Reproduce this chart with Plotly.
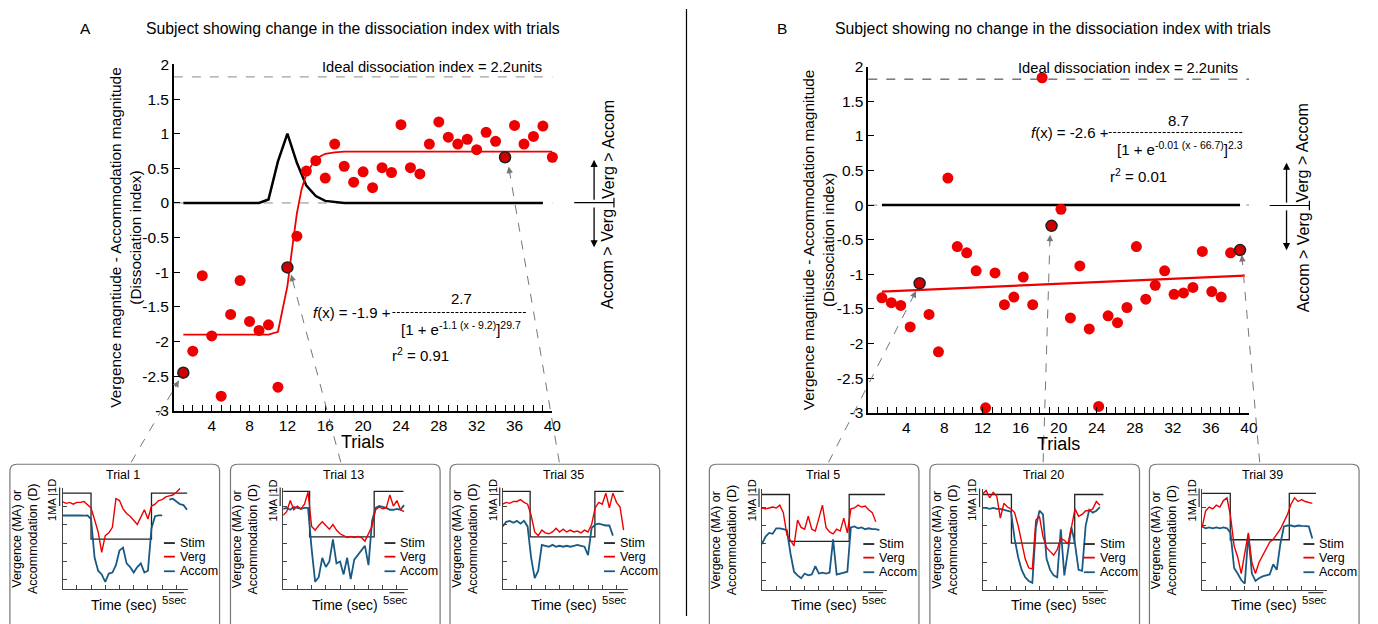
import math
import plotly.graph_objects as go

W, H = 1378, 624
FONT = "Liberation Sans, Arial, Helvetica, sans-serif"
RED = "rgb(238,0,0)"
BLUE = "#185a85"
GRAY = "#8a8a8a"

# ---------------- main panel data ----------------
trials = list(range(1, 41))

di_A = [-2.45, -2.14, -1.05, -1.92, -2.79, -1.61, -1.12, -1.71, -1.84, -1.76,
        -2.66, -0.93, -0.48, 0.46, 0.61, 0.36, 0.85, 0.53, 0.30, 0.45,
        0.22, 0.51, 0.44, 1.13, 0.51, 0.42, 0.85, 1.17, 0.95, 0.85,
        0.92, 0.77, 1.02, 0.89, 0.66, 1.12, 0.85, 0.96, 1.11, 0.66]
hl_A = [1, 12, 35]
fit_x_A = [1, 10, 11, 12, 12.5, 13, 13.5, 14, 15, 16, 17, 18, 40]
fit_y_A = [-1.9, -1.9, -1.86, -1.2, -0.66, -0.15, 0.2, 0.42, 0.64, 0.71, 0.73, 0.74, 0.74]
peak_x_A = [1, 9, 10, 11, 12, 13, 14, 15, 16, 17, 18, 39]
peak_y_A = [0, 0, 0.05, 0.6, 1.0, 0.58, 0.25, 0.10, 0.03, 0.01, 0, 0]

di_B = [-1.34, -1.41, -1.45, -1.76, -1.13, -1.58, -2.12, 0.39, -0.60, -0.69,
        -0.95, -2.93, -0.98, -1.44, -1.33, -1.04, -1.44, 1.84, -0.30, -0.06,
        -1.63, -0.88, -1.79, -2.91, -1.60, -1.70, -1.48, -0.60, -1.36, -1.16,
        -0.95, -1.29, -1.27, -1.19, -0.67, -1.25, -1.33, -0.69, -0.65, -1.07]
hl_B = [5, 19, 39]
fit_x_B = [1, 39.5]
fit_y_B = [-1.25, -1.02]
flat_x_B = [1, 39]
flat_y_B = [0, 0]

ideal_level = 1.82

x_ticks = list(range(1, 41))
x_labels = [str(t) if t % 4 == 0 else "" for t in x_ticks]
y_ticks = [-3, -2.5, -2, -1.5, -1, -0.5, 0, 0.5, 1, 1.5, 2]
y_labels = ["-3", "-2.5", "-2", "-1.5", "-1", "-0.5", "0", "0.5", "1", "1.5", "2"]

# ---------------- inset data (time step 0.25 tick units) ----------------
inset_titles = ["Trial 1", "Trial 13", "Trial 35", "Trial 5", "Trial 20", "Trial 39"]
stim_x = [[0, 2.0, 2.0, 6.25, 6.25, 8.76],
          [0, 1.86, 1.86, 6.4, 6.4, 8.46],
          [0, 1.93, 1.93, 6.48, 6.48, 8.5],
          [0, 1.93, 1.93, 6.13, 6.13, 8.65],
          [0, 2.03, 2.03, 6.48, 6.48, 8.5],
          [0, 1.98, 1.98, 6.13, 6.13, 8.0]]
stim_y = [[4.7, 4.7, 2.21, 2.21, 4.7, 4.7],
          [4.8, 4.8, 2.33, 2.33, 4.8, 4.8],
          [4.8, 4.8, 2.33, 2.33, 4.8, 4.8],
          [4.68, 4.68, 2.14, 2.14, 4.68, 4.68],
          [4.68, 4.68, 2.05, 2.05, 4.68, 4.68],
          [4.74, 4.74, 2.23, 2.23, 4.74, 4.74]]
verg = [
    [4.23, 4.15, 4.2, 4.1, 4.2, 4.2, 4.25, 4.1, 3.9, 3.26, 2.6, 1.5, 2.4, 2.55, 2.85, 4.4,
     4.3, 3.85, 3.6, 3.45, 3.2, 3.0, 3.4, 3.8, 3.3, 4.0, 4.1, 4.3, 4.35, 4.5, 4.55, 4.6, 4.75, 4.95],
    [3.5, 3.7, 4.3, 3.8, 4.0, 3.85, 4.1, 4.75, 2.9, 2.7, 2.95, 3.15, 2.95, 2.75, 3.0, 2.7,
     2.5, 2.4, 2.3, 2.35, 2.3, 2.35, 2.3, 2.1, 2.5, 2.9, 3.8, 3.95, 3.85, 3.9, 4.6, 4.0, 4.3, 3.8, 3.7],
    [4.1, 4.2, 4.15, 4.25, 4.25, 4.35, 4.2, 4.1, 3.5, 2.6, 2.4, 2.7, 2.55, 2.5, 2.6, 2.8,
     2.6, 2.75, 2.6, 2.7, 2.6, 2.65, 2.55, 2.7, 2.6, 3.0, 3.9, 4.2, 4.1, 4.7, 3.9, 4.7, 4.2, 3.95, 2.7],
    [3.95, 3.9, 3.95, 4.0, 3.95, 4.1, 3.7, 2.5, 2.2, 1.9, 3.3, 2.9, 2.8, 3.5, 2.8, 2.7,
     3.4, 4.1, 2.9, 2.65, 2.55, 2.8, 2.7, 3.4, 2.6, 3.9, 3.95, 4.1, 4.0, 4.05, 3.85, 3.7, 3.2],
    [4.7, 4.9, 4.5, 4.8, 4.6, 3.4, 4.2, 4.0, 3.9, 3.7, 3.0, 2.1, 1.2, 0.7, 0.65, 3.3,
     3.5, 2.4, 1.8, 1.6, 1.4, 1.7, 2.3, 2.2, 2.0, 2.9, 3.9, 3.5, 3.6, 3.8, 3.8, 3.9, 4.3, 4.1],
    [2.9, 3.8, 4.0, 3.9, 4.1, 4.0, 4.35, 4.5, 3.5, 1.9, 1.3, 0.4, 1.5, 2.6, 1.0, 0.4,
     1.0, 1.35, 1.7, 2.1, 2.25, 2.5, 2.8, 3.2, 3.6, 4.15, 4.5, 4.3, 4.4, 4.3, 4.25, 4.2],
]
accom = [
    [3.49, 3.5, 3.5, 3.48, 3.5, 3.5, 3.48, 3.5, 3.3, 1.2, 0.5, 0.3, -0.1, 0.35, 0.4, 0.8,
     1.6, 1.75, 0.9, 0.7, 0.4, 0.7, 0.9, 0.4, 0.5, 2.8, 3.45, 3.5, 3.5, None, 4.35, 4.4, 4.25, 4.1, 4.05, 3.8],
    [3.85, 3.9, 3.8, 3.95, 3.9, 3.85, 3.9, 3.9, 1.7, -0.1, 0.15, 1.2, 0.7, 1.0, 2.2, 0.9,
     1.0, 0.3, 1.2, 0.05, 1.1, 1.35, 1.55, 1.85, 0.8, 3.2, 3.9, 4.0, 3.95, 3.9, 3.8, 3.8, 3.85, 3.8, 4.05],
    [2.9, 3.15, 3.2, 3.1, 3.2, 3.05, 3.2, 2.9, 1.2, 0.1, 0.5, 1.9, 1.85, 1.8, 1.9, 1.8,
     1.85, 1.8, 1.85, 1.8, 1.85, 1.9, 1.85, 1.8, 1.35, 2.8, 3.0, 3.05, 3.0, 2.95, 2.95, 2.4],
    [2.0, 2.4, 2.6, 2.55, 2.85, 2.85, 2.8, 2.75, 1.5, 0.5, 0.3, 0.15, 0.4, 0.3, 0.35, 0.8,
     0.4, 0.45, 0.4, 0.45, 2.25, 0.35, 0.4, 0.45, 0.5, 2.9, 2.95, 2.85, 2.9, 2.8, 2.85, 2.8, 2.8, 2.75],
    [3.95, 3.95, 3.9, 3.95, 3.9, 3.9, 3.85, 3.8, 3.75, 2.3, 1.3, 0.6, 0.2, 0.0, -0.1, 2.9,
     3.8, 3.6, 1.2, 0.6, 0.3, 0.2, 2.8, 0.3, 1.5, 2.9, 2.0, 0.6, 0.55, 3.0, 3.85, 3.7, 3.8, 4.0],
    [2.95, 2.85, 2.9, 2.85, 2.9, 2.85, 2.9, 2.85, 2.6, 0.7, 0.4, 0.05, -0.15, 2.5, 0.4, 0.0,
     0.15, 0.25, 0.3, 0.35, 0.9, 0.6, 2.0, 2.95, 3.0, 3.0, 2.95, 3.0, 2.98, 2.95, 2.95, 2.3],
]

# ---------------- helpers ----------------
def X(px):
    return px / W


def Y(py):
    return 1 - py / H


shapes, anns = [], []


def line_px(x0, y0, x1, y1, color="black", width=1.0, dash="solid"):
    shapes.append(dict(type="line", xref="paper", yref="paper", x0=X(x0), y0=Y(y0),
                       x1=X(x1), y1=Y(y1), line=dict(color=color, width=width, dash=dash)))


def text_px(txt, x, y, size=15, xanchor="center", yanchor="middle", angle=0, color="black"):
    anns.append(dict(text=txt, x=X(x), y=Y(y), xref="paper", yref="paper", showarrow=False,
                     xanchor=xanchor, yanchor=yanchor, textangle=angle,
                     font=dict(family=FONT, size=size, color=color)))


def arrow_px(sx, sy, ex, ey, color, width=1.0, length=9, size=1.3):
    dx, dy = sx - ex, sy - ey
    n = math.hypot(dx, dy)
    anns.append(dict(text="", x=X(ex), y=Y(ey), xref="paper", yref="paper",
                     ax=dx / n * length, ay=dy / n * length, axref="pixel", ayref="pixel",
                     showarrow=True, arrowhead=2, arrowsize=size, arrowwidth=width,
                     arrowcolor=color, font=dict(family=FONT, size=10)))


fig = go.Figure()

# ---------------- main panels ----------------
fig.add_trace(go.Scatter(x=peak_x_A, y=peak_y_A, mode="lines",
                         line=dict(color="black", width=2.5), xaxis="x", yaxis="y"))
fig.add_trace(go.Scatter(x=fit_x_A, y=fit_y_A, mode="lines",
                         line=dict(color=RED, width=1.8), xaxis="x", yaxis="y"))
fig.add_trace(go.Scatter(
    x=trials, y=di_A, mode="markers", xaxis="x", yaxis="y", cliponaxis=False,
    marker=dict(size=11, color=["#d00000" if t in hl_A else RED for t in trials],
                line=dict(color=["#222" if t in hl_A else RED for t in trials],
                          width=[1.5 if t in hl_A else 0 for t in trials]))))

fig.add_trace(go.Scatter(x=flat_x_B, y=flat_y_B, mode="lines",
                         line=dict(color="black", width=2.5), xaxis="x2", yaxis="y2"))
fig.add_trace(go.Scatter(x=fit_x_B, y=fit_y_B, mode="lines",
                         line=dict(color=RED, width=2.2), xaxis="x2", yaxis="y2"))
fig.add_trace(go.Scatter(
    x=trials, y=di_B, mode="markers", xaxis="x2", yaxis="y2", cliponaxis=False,
    marker=dict(size=11, color=["#d00000" if t in hl_B else RED for t in trials],
                line=dict(color=["#222" if t in hl_B else RED for t in trials],
                          width=[1.5 if t in hl_B else 0 for t in trials]))))

# reference dashed lines
for xr, yr, col in (("x domain", "y", GRAY), ("x2 domain", "y2", "#333")):
    shapes.append(dict(type="line", xref=xr, yref=yr, x0=0, x1=1, y0=ideal_level, y1=ideal_level,
                       line=dict(color=col, width=1, dash="dash"), layer="below"))
    shapes.append(dict(type="line", xref=xr, yref=yr, x0=0, x1=1, y0=0, y1=0,
                       line=dict(color=GRAY, width=1, dash="dash"), layer="below"))

axis_common = dict(showline=True, linecolor="black", linewidth=1.5, ticks="inside", ticklen=6,
                   tickwidth=1.2, tickcolor="black", showgrid=False, zeroline=False,
                   tickfont=dict(family=FONT, size=15.5, color="black"))

layout_axes = dict(
    xaxis=dict(domain=[X(175), X(556)], range=[0, 40], tickvals=x_ticks, ticktext=x_labels,
               anchor="y", **axis_common),
    yaxis=dict(domain=[Y(413), Y(57)], range=[-3, 2], tickvals=y_ticks, ticktext=y_labels,
               anchor="x", **axis_common),
    xaxis2=dict(domain=[X(874), X(1257.3)], range=[-0.444, 39.96],
                tickvals=[-0.444 + 1.0098 * t for t in x_ticks], ticktext=x_labels,
                anchor="y2", **axis_common),
    yaxis2=dict(domain=[Y(415), Y(59.3)], range=[-3, 2], tickvals=y_ticks, ticktext=y_labels,
                anchor="x2", **axis_common),
)

# titles / labels of main panels
text_px("A", 86, 20, 15.5)
text_px("Subject showing change in the dissociation index with trials", 145, 20, 15.8, xanchor="left")
text_px("B", 787, 20, 15.5)
text_px("Subject showing no change in the dissociation index with trials", 838, 20, 15.8, xanchor="left")

text_px("Vergence magntiude - Accommodation magnitude<br>(Dissociation index)", 126, 235, 15.4, angle=-90)
text_px("Vergence magntiude - Accommodation magnitude<br>(Dissociation index)", 824, 237, 15.4, angle=-90)
text_px("Trials", 365, 445, 18)
text_px("Trials", 1065, 447, 18)

text_px("Ideal dissociation index = 2.2units", 548, 60, 14.7, xanchor="right")
text_px("Ideal dissociation index = 2.2units", 1248, 61, 14.7, xanchor="right")

# equations
text_px("<i>f</i>(x) = -1.9 + ", 313, 312, 15, xanchor="left")
text_px("2.7", 465, 298, 15)
line_px(395, 312, 530, 312, "black", 1, "3px,1.5px")
text_px("[1 + e<sup>-1.1 (x - 9.2)</sup>]<sup>29.7</sup>", 464, 328, 15)
text_px("r<sup>2</sup> = 0.91", 393, 355, 15, xanchor="left")

text_px("<i>f</i>(x) = -2.6 + ", 1036, 127, 15, xanchor="left")
text_px("8.7", 1186, 115, 15)
line_px(1116, 127, 1252, 127, "black", 1, "3px,1.5px")
text_px("[1 + e<sup>-0.01 (x - 66.7)</sup>]<sup>2.3</sup>", 1188, 143, 15)
text_px("r<sup>2</sup> = 0.01", 1115, 171, 15, xanchor="left")

# side direction labels
for cx, ax_x, zero_y in ((612, 598, 199), (1312, 1295, 202)):
    line_px(cx - 34, zero_y, cx + 6, zero_y, "black", 1.2)
    line_px(cx + 6, zero_y - 5, cx + 6, zero_y + 5, "black", 1.2)
    line_px(ax_x, zero_y - 3, ax_x, zero_y - 40, "black", 1.3)
    arrow_px(ax_x, zero_y - 3, ax_x, zero_y - 44, "black", 1.3, 8, 1.1)
    line_px(ax_x, zero_y + 5, ax_x, zero_y + 42, "black", 1.3)
    arrow_px(ax_x, zero_y + 5, ax_x, zero_y + 46, "black", 1.3, 8, 1.1)
    text_px("Verg > Accom", cx, zero_y - 54, 16, angle=-90)
    text_px("Accom > Verg", cx, zero_y + 58, 16, angle=-90)

# divider
line_px(691, 0, 691, 624, "black", 1.2)

# dashed pointer arrows from insets to highlighted points
pointers = [(132, 466, 180, 382), (343, 466, 293, 273), (563, 466, 512, 162),
            (834, 466, 922, 290), (1050, 466, 1057, 232), (1268, 466, 1250, 253)]
for sx, sy, ex, ey in pointers:
    line_px(sx, sy, ex, ey, "#777", 1, "dash")
    arrow_px(sx, sy, ex, ey, "#777", 1, 9, 1.3)

# ---------------- insets ----------------
box_left = [10, 232, 453, 714, 936, 1157]
base_py = [587, 587, 587, 588, 588, 588]
r = 7
for k in range(6):
    L = box_left[k]
    base = base_py[k]
    n = k + 3
    xa, ya = f"x{n}", f"y{n}"
    x0, x1, y0, y1 = L, L + 211, 468, 640
    path = (f"M {X(x0)},{Y(y1)} L {X(x0)},{Y(y0 + r)} Q {X(x0)},{Y(y0)} {X(x0 + r)},{Y(y0)} "
            f"L {X(x1 - r)},{Y(y0)} Q {X(x1)},{Y(y0)} {X(x1)},{Y(y0 + r)} L {X(x1)},{Y(y1)}")
    shapes.append(dict(type="path", xref="paper", yref="paper", path=path,
                       line=dict(color="#777", width=1.2)))

    fig.add_trace(go.Scatter(x=stim_x[k], y=stim_y[k], mode="lines",
                             line=dict(color="#222", width=1.3), xaxis=xa, yaxis=ya))
    fig.add_trace(go.Scatter(y=accom[k], x0=0, dx=0.25, mode="lines", connectgaps=False,
                             line=dict(color=BLUE, width=1.8), xaxis=xa, yaxis=ya))
    fig.add_trace(go.Scatter(y=verg[k], x0=0, dx=0.25, mode="lines",
                             line=dict(color=RED, width=1.4), xaxis=xa, yaxis=ya))

    inset_axis = dict(showline=True, linecolor="#444", linewidth=1, ticks="inside", ticklen=4,
                      tickwidth=1, tickcolor="#444", showgrid=False, zeroline=False,
                      showticklabels=False)
    layout_axes[f"xaxis{n}"] = dict(domain=[X(L + 53), X(L + 179)], range=[0, 8.8],
                                    tickvals=list(range(1, 9)), anchor=ya, **inset_axis)
    layout_axes[f"yaxis{n}"] = dict(domain=[Y(base + 8.9), Y(base - 95)], range=[-0.47, 5.0],
                                    tickvals=[0, 1, 2, 3, 4], anchor=xa, **inset_axis)

    text_px(inset_titles[k], L + 114, 479, 12.5)
    text_px("Vergence (MA) or<br>Accommodation (D)", L + 15, base - 42, 12.5, angle=-90)
    text_px("1MA |1D", L + 43, 505, 11, angle=-90)
    line_px(L + 50, base - 95, L + 50, base - 76, "#333", 1.2)
    text_px("Time (sec)", L + 115, 613, 14)
    text_px("5sec", L + 166, 608, 11.5)
    line_px(L + 160, 600, L + 175, 600, "#333", 1.2)
    for lab, col, dy in (("Stim", "#222", 38), ("Verg", RED, 24), ("Accom", BLUE, 9)):
        line_px(L + 155, base - dy, L + 166, base - dy, col, 1.8)
        text_px(lab, L + 169, base - dy, 12.5, xanchor="left")

fig.update_layout(
    width=W, height=H, margin=dict(l=0, r=0, t=0, b=0),
    paper_bgcolor="white", plot_bgcolor="white", showlegend=False,
    font=dict(family=FONT, color="black"),
    shapes=shapes, annotations=anns, **layout_axes)

fig.write_html("out.html", config={"displayModeBar": False},
               post_script="document.body.style.margin='0';document.body.style.overflow='hidden';")
